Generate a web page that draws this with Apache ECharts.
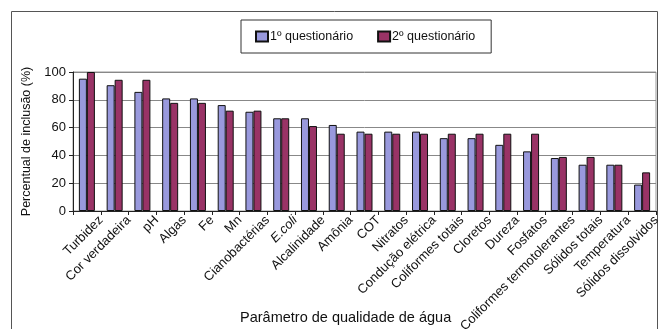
<!DOCTYPE html>
<html>
<head>
<meta charset="utf-8">
<script src="https://cdn.jsdelivr.net/npm/echarts@6/dist/echarts.min.js"></script>
<style>
  html, body { margin: 0; padding: 0; background: #fff; }
  #chart { width: 659px; height: 329px; }
</style>
</head>
<body>
<div id="chart"></div>
<script>
// Parameters and the share of respondents who included each one (%)
const categories = [
  'Turbidez', 'Cor verdadeira', 'pH', 'Algas', 'Fe', 'Mn', 'Cianobactérias',
  'E.coli', 'Alcalinidade', 'Amônia', 'COT', 'Nitratos', 'Condução elétrica',
  'Coliformes totais', 'Cloretos', 'Dureza', 'Fosfatos',
  'Coliformes termotolerantes', 'Sólidos totais', 'Temperatura', 'Sólidos dissolvidos'
];
const seriesNames = ['1º questionário', '2º questionário'];
const firstSurvey = [
  95.2, 90.5, 85.7, 81.0, 81.0, 76.2, 71.4, 66.7, 66.7, 61.9, 57.1,
  57.1, 57.1, 52.4, 52.4, 47.6, 42.9, 38.1, 33.3, 33.3, 19.0
];
const secondSurvey = [
  100, 94.4, 94.4, 77.8, 77.8, 72.2, 72.2, 66.7, 61.1, 55.6, 55.6,
  55.6, 55.6, 55.6, 55.6, 55.6, 55.6, 38.9, 38.9, 33.3, 27.8
];
const yTicks = [0, 20, 40, 60, 80, 100];

const FONT = 'Liberation Sans, Arial, sans-serif';
const chart = echarts.init(document.getElementById('chart'), null, { renderer: 'canvas' });

chart.setOption({
  animation: false,
  textStyle: { fontFamily: FONT },
  graphic: [
    {
      type: 'rect', silent: true, z: -10,
      shape: { x: 11.5, y: 11.5, width: 646, height: 330 },
      style: { fill: 'none', stroke: '#555', lineWidth: 1 }
    },
    {
      type: 'text', left: 240, top: 310,
      style: { text: 'Parâmetro de qualidade de água', fontSize: 14.5, fontFamily: FONT, fill: '#111' }
    }
  ],
  legend: {
    data: seriesNames,
    left: 241, top: 20,
    padding: [10, 16, 10, 14],
    itemGap: 24,
    itemWidth: 12, itemHeight: 10,
    borderColor: '#333', borderWidth: 1, borderRadius: 0,
    icon: 'rect',
    textStyle: { fontSize: 12.5, fontFamily: FONT, color: '#111', padding: [0, 0, 0, -3] }
  },
  grid: {
    left: 73, right: 3, top: 72, bottom: 118,
    show: true, borderColor: '#999', borderWidth: 1,
    containLabel: false, outerBoundsMode: 'none'
  },
  xAxis: {
    type: 'category',
    data: categories,
    axisLine: { lineStyle: { color: '#222', width: 1 } },
    axisTick: { show: true, alignWithLabel: false, length: 4, lineStyle: { color: '#222' } },
    axisLabel: {
      interval: 0, rotate: 45, fontSize: 13, color: '#111', fontFamily: FONT,
      // tall line box + negative margin nudges each slanted label to the right of its category
      margin: -7, lineHeight: 40, verticalAlign: 'top',
      formatter: v => v === 'E.coli' ? '{i|E.coli}' : v,
      rich: { i: { fontStyle: 'italic', fontSize: 13, lineHeight: 40, fontFamily: FONT, color: '#111' } }
    }
  },
  yAxis: {
    type: 'value', min: 0, max: 100, interval: 20,
    name: 'Percentual de inclusão (%)',
    nameLocation: 'middle', nameGap: 40,
    nameTextStyle: { fontSize: 12.5, color: '#111', fontFamily: FONT },
    axisLine: { show: true, lineStyle: { color: '#222' } },
    axisTick: { show: true, length: 4, lineStyle: { color: '#222' } },
    axisLabel: {
      fontSize: 13, color: '#111', margin: 7, fontFamily: FONT,
      formatter: v => yTicks.includes(v) ? String(v) : ''
    },
    splitLine: { show: true, lineStyle: { color: '#888', width: 1 } }
  },
  series: [
    {
      name: seriesNames[0], type: 'bar', data: firstSurvey,
      barWidth: 8, barGap: '0%',
      itemStyle: { color: '#9999dd', borderColor: '#111', borderWidth: 1 }
    },
    {
      name: seriesNames[1], type: 'bar', data: secondSurvey,
      barWidth: 8,
      itemStyle: { color: '#993366', borderColor: '#111', borderWidth: 1 }
    }
  ]
});
</script>
</body>
</html>
